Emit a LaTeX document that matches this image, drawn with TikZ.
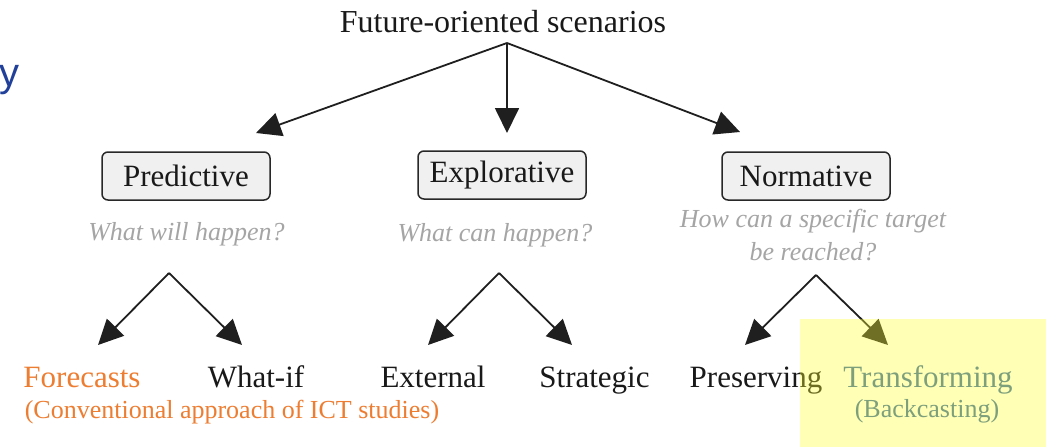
\documentclass[tikz,border=0pt]{standalone}
\usepackage{fontspec}
\setmainfont{Liberation Serif}
\newfontfamily\slidesans{Liberation Sans}
\usetikzlibrary{arrows.meta}
\definecolor{boxfill}{RGB}{240,240,240}
\definecolor{boxline}{RGB}{40,40,40}
\definecolor{qgray}{RGB}{165,165,165}
\definecolor{accentorange}{RGB}{237,125,49}
\definecolor{accentblue}{RGB}{52,106,167}
\definecolor{slideblue}{RGB}{33,64,154}
\definecolor{marker}{RGB}{255,255,50}

\begin{document}
\begin{tikzpicture}[x=1pt,y=-1pt,
  every node/.style={inner sep=0pt, anchor=base},
  label/.style={font=\fontsize{31}{36}\selectfont, text=black!90},
  typebox/.style={draw=boxline, fill=boxfill, line width=1.5pt, rounded corners=6pt,
    minimum width=168pt, minimum height=48pt, anchor=center,
    font=\fontsize{31}{36}\selectfont, text=black!90},
  question/.style={font=\fontsize{26}{31}\selectfont\itshape, text=qgray},
  note/.style={font=\fontsize{26}{31}\selectfont},
  link/.style={draw=black!88, line width=1.8pt, -{Triangle[length=25pt,width=24pt]}},
]
% canvas
\clip (0,0) rectangle (1046,447);
\fill[white] (0,0) rectangle (1046,447);

% fragment of the slide heading
\node[font=\slidesans\fontsize{40}{46}\selectfont, text=slideblue, anchor=base west] (heading) at (-0.5,86) {y};

% root
\node[label, font=\fontsize{32}{37}\selectfont] (title) at (503,32) {Future-oriented scenarios};

% scenario types
\node[typebox] (pred) at (186,176) {Predictive};
\node[typebox] (expl) at (502,175) {Explorative};
\node[typebox] (norm) at (806,176) {Normative};

% guiding questions
\node[question] (qpred) at (186.5,240) {What will happen?};
\node[question] (qexpl) at (495,241) {What can happen?};
\node[question] (qnorm1) at (813,227) {How can a specific target};
\node[question] (qnorm2) at (813,260) {be reached?};

% sub-types
\node[label, text=accentorange] (fore) at (82,387) {Forecasts};
\node[label] (whatif) at (256,387) {What-if};
\node[label] (ext) at (433,387) {External};
\node[label] (strat) at (594.5,387) {Strategic};
\node[label] (pres) at (756,387) {Preserving};
\node[label, text=accentblue] (trans) at (928,387) {Transforming};
\node[note, text=accentorange] (conv) at (232,418) {(Conventional approach of ICT studies)};
\node[note, text=accentblue] (back) at (927,417) {(Backcasting)};

% fork points and arrow tips
\coordinate (rootfork) at (507,43);
\coordinate (tpred) at (256,133);
\coordinate (texpl) at (507,133);
\coordinate (tnorm) at (740,132);
\coordinate (pfork) at (169,273);
\coordinate (tfore) at (98,345);
\coordinate (twhatif) at (242,345);
\coordinate (efork) at (499,273);
\coordinate (text) at (428,345);
\coordinate (tstrat) at (572,345);
\coordinate (nfork) at (816,275);
\coordinate (tpres) at (745,345);
\coordinate (ttrans) at (888,345);

% connectors
\draw[link] (rootfork) -- (tpred);
\draw[link] (rootfork) -- (texpl);
\draw[link] (rootfork) -- (tnorm);
\draw[link] (pfork) -- (tfore);
\draw[link] (pfork) -- (twhatif);
\draw[link] (efork) -- (text);
\draw[link] (efork) -- (tstrat);
\draw[link] (nfork) -- (tpres);
\draw[link] (nfork) -- (ttrans);

% highlighter mark over the backcasting branch
\fill[marker, fill opacity=0.36] (800,319) rectangle (1046,447);
\end{tikzpicture}
\end{document}
